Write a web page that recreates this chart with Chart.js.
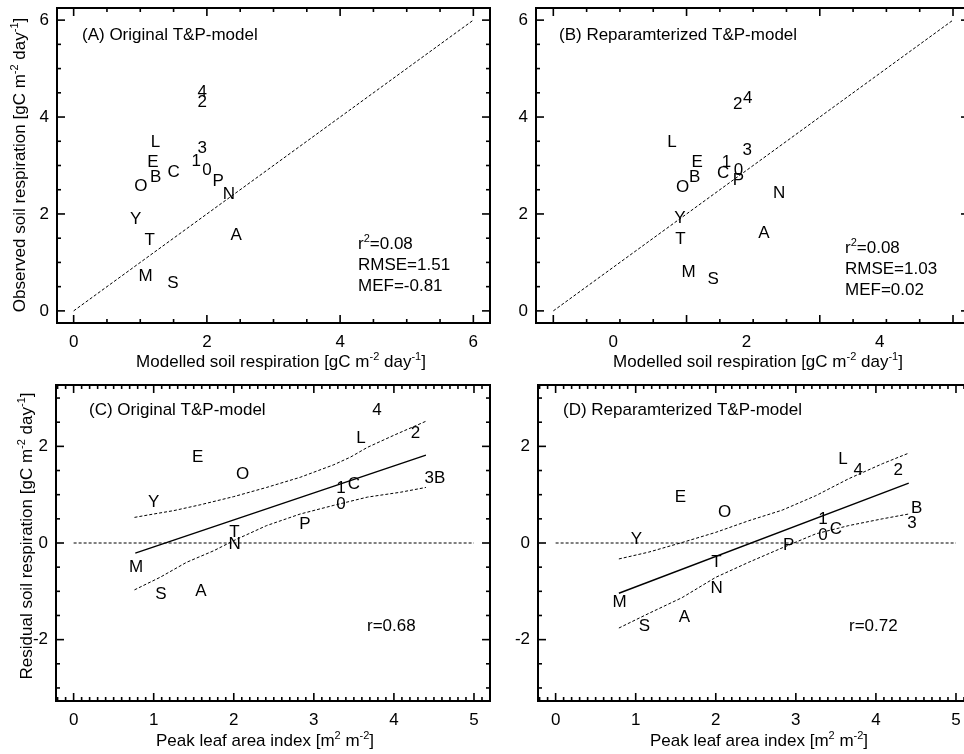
<!DOCTYPE html>
<html><head><meta charset="utf-8">
<script src="https://cdn.jsdelivr.net/npm/chart.js@4.4.1/dist/chart.umd.min.js"></script>
<style>
html,body{margin:0;padding:0;background:#fff;overflow:hidden;width:964px;height:754px;}
.p{position:absolute;}
</style></head><body>
<div class="p" style="left:0;top:0"><canvas id="cA" width="500" height="377"></canvas></div>
<div class="p" style="left:482px;top:0"><canvas id="cB" width="500" height="377"></canvas></div>
<div class="p" style="left:0;top:377px"><canvas id="cC" width="500" height="377"></canvas></div>
<div class="p" style="left:482px;top:377px"><canvas id="cD" width="500" height="377"></canvas></div>
<script>
// ---------- data ----------
const siteCodes  = ['A','B','C','E','L','M','N','O','P','S','T','Y','0','1','2','3','4'];
const modelledA  = [2.44,1.23,1.50,1.19,1.23,1.08,2.33,1.01,2.17,1.49,1.14,0.93,2.00,1.84,1.93,1.93,1.93];
const observedA  = [1.55,2.76,2.85,3.07,3.48,0.72,2.41,2.57,2.68,0.56,1.46,1.88,2.91,3.09,4.31,3.36,4.50];
const modelledB  = [2.26,1.22,1.65,1.26,0.88,1.13,2.49,1.04,1.88,1.50,1.01,1.00,1.88,1.70,1.87,2.01,2.02];
const observedB  = [1.61,2.76,2.84,3.06,3.48,0.79,2.43,2.55,2.69,0.66,1.48,1.92,2.91,3.06,4.26,3.32,4.38];
const laiC       = [1.59,4.57,3.50,1.55,3.59,0.78,2.01,2.11,2.89,1.09,2.01,1.00,3.34,3.34,4.27,4.44,3.79];
const residualC  = [-0.99,1.33,1.22,1.78,2.16,-0.50,-0.02,1.43,0.39,-1.07,0.22,0.84,0.81,1.13,2.26,1.33,2.74];
const laiD       = [1.61,4.51,3.50,1.56,3.59,0.80,2.01,2.11,2.91,1.11,2.01,1.01,3.34,3.34,4.28,4.45,3.78];
const residualD  = [-1.53,0.72,0.29,0.95,1.74,-1.23,-0.94,0.64,-0.05,-1.73,-0.39,0.08,0.15,0.50,1.51,0.41,1.50];

const oneToOneA_x = [0, 6],    oneToOneA_y = [0, 6];
const oneToOneB_x = [-0.9, 5.1], oneToOneB_y = [0, 6];
const zeroLine_x = [0, 5],     zeroLine_y = [0, 0];

const fitC_x = [0.77, 4.40], fitC_y = [-0.21, 1.82];
const upperC_x = [0.76,1.00,1.25,1.58,2.00,2.41,2.83,3.25,3.46,3.67,4.00,4.40];
const upperC_y = [0.53,0.60,0.67,0.79,0.96,1.15,1.36,1.62,1.78,1.98,2.23,2.52];
const lowerC_x = [0.76,1.08,1.41,1.75,2.00,2.41,2.83,3.25,3.67,4.08,4.40];
const lowerC_y = [-0.97,-0.71,-0.40,-0.16,0.05,0.36,0.60,0.78,0.95,1.05,1.15];

const fitD_x = [0.79, 4.41], fitD_y = [-1.04, 1.24];
const upperD_x = [0.79,1.16,1.58,2.00,2.41,2.83,3.25,3.66,4.08,4.41];
const upperD_y = [-0.33,-0.19,0.01,0.22,0.46,0.68,0.98,1.33,1.64,1.86];
const lowerD_x = [0.79,1.16,1.58,2.00,2.41,2.83,3.25,3.66,4.08,4.41];
const lowerD_y = [-1.76,-1.46,-1.13,-0.71,-0.40,-0.10,0.19,0.36,0.50,0.60];

const tickLabelsA_x  = [0, 2, 4, 6];
const tickLabelsB_x  = [0, 2, 4];
const tickLabelsAB_y = [0, 2, 4, 6];
const tickLabelsCD_x = [0, 1, 2, 3, 4, 5];
const tickLabelsCD_y = [-2, 0, 2];

const statsA = ['r^{2}=0.08', 'RMSE=1.51', 'MEF=-0.81'];
const statsB = ['r^{2}=0.08', 'RMSE=1.03', 'MEF=0.02'];
const statsC = ['r=0.68'];
const statsD = ['r=0.72'];

// ---------- helpers ----------
const FF = '"Liberation Sans", Arial, Helvetica, sans-serif';
Chart.defaults.font.family = FF;
Chart.defaults.font.size = 17;
Chart.defaults.color = '#000';

function pts(xs, ys) { return xs.map((x, i) => ({x: x, y: ys[i]})); }
function range(a, b, s) { const r = []; for (let k = 0; a + k * s <= b + 1e-9; k++) r.push(+(a + k * s).toFixed(4)); return r; }

function parseRich(str) {
  const parts = []; const re = /\^\{([^}]*)\}/g; let last = 0, m;
  while ((m = re.exec(str))) { if (m.index > last) parts.push([str.slice(last, m.index), false]); parts.push([m[1], true]); last = re.lastIndex; }
  if (last < str.length) parts.push([str.slice(last), false]);
  return parts;
}
function drawRich(ctx, str, x, y, align, rot) {
  const parts = parseRich(str);
  ctx.save(); ctx.translate(x, y); if (rot) ctx.rotate(rot);
  ctx.fillStyle = '#000'; ctx.textAlign = 'left'; ctx.textBaseline = 'alphabetic';
  const w = parts.map(p => { ctx.font = (p[1] ? 11 : 17) + 'px ' + FF; return ctx.measureText(p[0]).width; });
  const total = w.reduce((a, b) => a + b, 0);
  let cx = align === 'center' ? -total / 2 : 0;
  parts.forEach((p, i) => { ctx.font = (p[1] ? 11 : 17) + 'px ' + FF; ctx.fillText(p[0], cx, p[1] ? -1.5 : 6); cx += w[i]; });
  ctx.restore();
}

function makePlugin(cfg) {
  return {
    id: 'panel' + cfg.id,
    afterDatasetsDraw(chart) {
      const ctx = chart.ctx;
      chart.data.datasets.forEach((ds, i) => {
        if (!ds.letters) return;
        const meta = chart.getDatasetMeta(i);
        ctx.save(); ctx.font = '17px ' + FF; ctx.fillStyle = '#000'; ctx.textAlign = 'center'; ctx.textBaseline = 'middle';
        meta.data.forEach((el, j) => ctx.fillText(ds.letters[j], el.x, el.y));
        ctx.restore();
      });
    },
    afterDraw(chart) {
      const ctx = chart.ctx, a = chart.chartArea, sx = chart.scales.x, sy = chart.scales.y;
      ctx.save();
      ctx.strokeStyle = '#000';
      ctx.lineWidth = 1.6;
      const line = (x1, y1, x2, y2) => { ctx.beginPath(); ctx.moveTo(x1, y1); ctx.lineTo(x2, y2); ctx.stroke(); };
      const isMaj = (v, list) => list.some(m => Math.abs(m - v) < 1e-6);
      cfg.xMarks.forEach(v => { const p = sx.getPixelForValue(v); const L = isMaj(v, cfg.xMajor) ? 8 : 4;
        line(p, a.bottom, p, a.bottom - L); line(p, a.top, p, a.top + L); });
      cfg.yMarks.forEach(v => { const p = sy.getPixelForValue(v); const L = isMaj(v, cfg.yMajor) ? 8 : 4;
        line(a.left, p, a.left + L, p); line(a.right, p, a.right - L, p); });
      ctx.lineWidth = 2;
      ctx.strokeRect(a.left, a.top, a.right - a.left, a.bottom - a.top);
      ctx.restore();
      // texts
      ctx.save(); ctx.font = '17px ' + FF; ctx.fillStyle = '#000'; ctx.textAlign = 'left'; ctx.textBaseline = 'middle';
      drawRich(ctx, cfg.title, cfg.titlePos[0], cfg.titlePos[1], 'left');
      cfg.stats.forEach((s, i) => drawRich(ctx, s, cfg.statsPos[0], cfg.statsPos[1] + i * 21, 'left'));
      drawRich(ctx, cfg.xTitle, cfg.xTitlePos[0], cfg.xTitlePos[1], 'center');
      if (cfg.yTitle) drawRich(ctx, cfg.yTitle, cfg.yTitlePos[0], cfg.yTitlePos[1], 'center', -Math.PI / 2);
      ctx.restore();
    }
  };
}

function makePanel(canvasId, cfg, datasets) {
  new Chart(document.getElementById(canvasId), {
    type: 'scatter',
    data: { datasets: datasets },
    options: {
      responsive: false, animation: false, events: [],
      layout: { padding: { left: 0, right: cfg.W - cfg.area[2], top: cfg.area[1], bottom: 0 } },
      plugins: { legend: { display: false }, tooltip: { enabled: false } },
      scales: {
        x: {
          type: 'linear', min: cfg.xRange[0], max: cfg.xRange[1],
          grid: { display: false, drawTicks: false }, border: { display: false },
          ticks: { padding: 9, maxRotation: 0, font: { size: 17 }, callback: v => String(v) },
          afterBuildTicks: s => { s.ticks = cfg.xLabels.map(v => ({ value: v })); },
          afterFit: s => { s.height = cfg.H - cfg.area[3]; s.paddingLeft = 0; s.paddingRight = 0; }
        },
        y: {
          type: 'linear', min: cfg.yRange[0], max: cfg.yRange[1],
          grid: { display: false, drawTicks: false }, border: { display: false },
          ticks: { padding: 8, font: { size: 17 }, callback: v => String(v) },
          afterBuildTicks: s => { s.ticks = cfg.yLabels.map(v => ({ value: v })); },
          afterFit: s => { s.width = cfg.area[0]; s.paddingTop = 0; s.paddingBottom = 0; }
        }
      }
    },
    plugins: [makePlugin(cfg)]
  });
}

const letterSet = (xs, ys) => ({ data: pts(xs, ys), letters: siteCodes, pointRadius: 0, pointHoverRadius: 0, showLine: false });
const dashed = (xs, ys) => ({ data: pts(xs, ys), showLine: true, borderColor: '#000', borderWidth: 1, borderDash: [3, 2], pointRadius: 0, fill: false });
const solid = (xs, ys) => ({ data: pts(xs, ys), showLine: true, borderColor: '#000', borderWidth: 1.4, pointRadius: 0, fill: false });

const abY = { yRange: [-0.25, 6.25], yLabels: tickLabelsAB_y, yMarks: range(0, 6, 0.5), yMajor: [0, 2, 4, 6] };
const cdY = { yRange: [-3.27, 3.27], yLabels: tickLabelsCD_y, yMarks: range(-3, 3, 0.5), yMajor: [-2, 0, 2] };

makePanel('cA', Object.assign({
  id: 'A', W: 500, H: 377, area: [57, 8, 490, 323],
  xRange: [-0.25, 6.25], xLabels: tickLabelsA_x, xMarks: range(0, 6, 0.5), xMajor: [0, 2, 4, 6],
  title: '(A) Original T&P-model', titlePos: [82, 34],
  stats: statsA, statsPos: [358, 243],
  xTitle: 'Modelled soil respiration [gC m^{-2} day^{-1}]', xTitlePos: [281, 361],
  yTitle: 'Observed soil respiration [gC m^{-2} day^{-1}]', yTitlePos: [19, 165]
}, abY), [dashed(oneToOneA_x, oneToOneA_y), letterSet(modelledA, observedA)]);

makePanel('cB', Object.assign({
  id: 'B', W: 500, H: 377, area: [54, 8, 487, 323],
  xRange: [-1.16, 5.34], xLabels: tickLabelsB_x, xMarks: range(-0.9, 5.1, 0.5), xMajor: [-0.9, 1.1, 3.1, 5.1],
  title: '(B) Reparamterized T&P-model', titlePos: [77, 34],
  stats: statsB, statsPos: [363, 247],
  xTitle: 'Modelled soil respiration [gC m^{-2} day^{-1}]', xTitlePos: [276, 361]
}, abY), [dashed(oneToOneB_x, oneToOneB_y), letterSet(modelledB, observedB)]);

makePanel('cC', Object.assign({
  id: 'C', W: 500, H: 377, area: [56, 8, 490, 324],
  xRange: [-0.22, 5.2], xLabels: tickLabelsCD_x, xMarks: range(-0.2, 5.2, 0.1), xMajor: [0, 1, 2, 3, 4, 5],
  title: '(C) Original T&P-model', titlePos: [89, 32],
  stats: statsC, statsPos: [367, 248],
  xTitle: 'Peak leaf area index [m^{2} m^{-2}]', xTitlePos: [265, 363],
  yTitle: 'Residual soil respiration [gC m^{-2} day^{-1}]', yTitlePos: [26, 159]
}, cdY), [dashed(zeroLine_x, zeroLine_y), dashed(upperC_x, upperC_y), dashed(lowerC_x, lowerC_y), solid(fitC_x, fitC_y), letterSet(laiC, residualC)]);

makePanel('cD', Object.assign({
  id: 'D', W: 500, H: 377, area: [56, 8, 490, 324],
  xRange: [-0.22, 5.2], xLabels: tickLabelsCD_x, xMarks: range(-0.2, 5.2, 0.1), xMajor: [0, 1, 2, 3, 4, 5],
  title: '(D) Reparamterized T&P-model', titlePos: [81, 32],
  stats: statsD, statsPos: [367, 248],
  xTitle: 'Peak leaf area index [m^{2} m^{-2}]', xTitlePos: [277, 363]
}, cdY), [dashed(zeroLine_x, zeroLine_y), dashed(upperD_x, upperD_y), dashed(lowerD_x, lowerD_y), solid(fitD_x, fitD_y), letterSet(laiD, residualD)]);
</script>
</body></html>
